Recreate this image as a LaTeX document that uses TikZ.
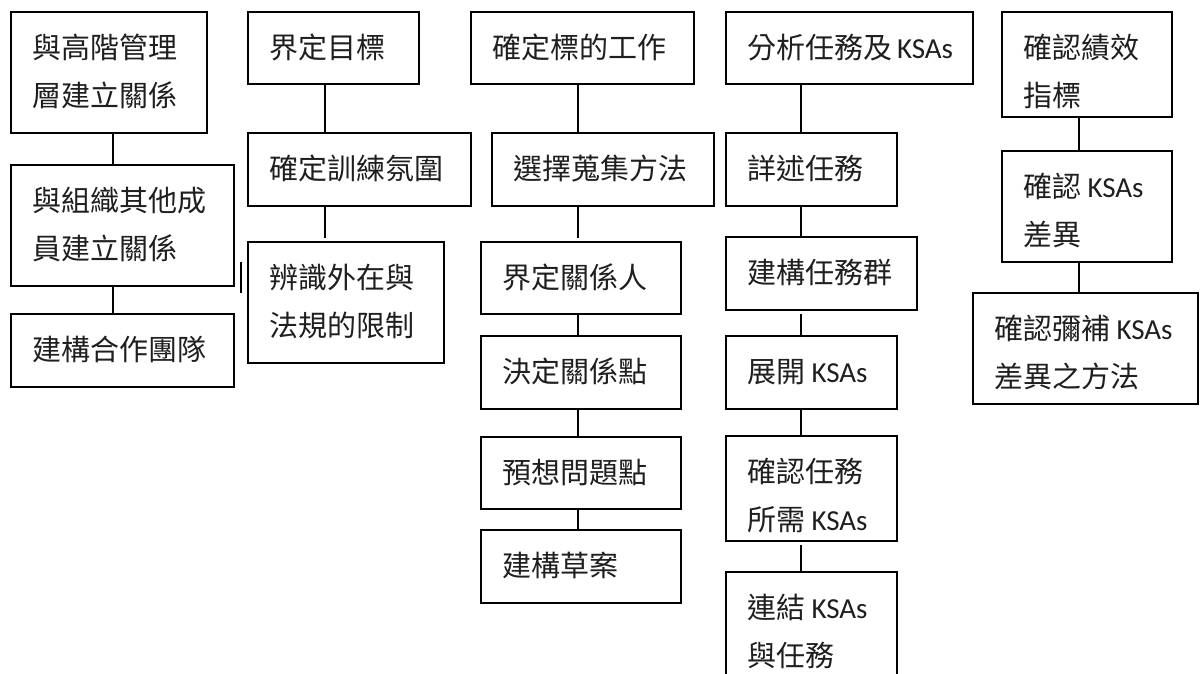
\documentclass[tikz,border=0pt]{standalone}
\usepackage{fontspec}
\setmainfont{Carlito}
\newfontfamily\cjk{Noto Sans CJK TC}
\newcommand\ksa{{\rmfamily KSAs}}
\tikzset{
  box/.style={draw=black, line width=2pt, inner sep=0pt, outer sep=0pt},
  txt/.style={inner sep=0pt, outer sep=0pt, anchor=base west, text=black!88, font=\fontsize{29}{29}\selectfont\cjk},
  conn/.style={draw=black, line width=2pt}
}
% name, x1, y1, x2, y2, line1
\newcommand\boxone[6]{%
  \node[box, minimum width={(#4-#2)*1pt}, minimum height={(#5-#3)*1pt}] (#1) at ({(#2+#4)/2},{(#3+#5)/2}) {};
  \node[txt] (#1l1) at ([xshift=21pt,yshift=-46pt]#1.north west) {#6};
}
% name, x1, y1, x2, y2, line1, line2
\newcommand\boxtwo[7]{%
  \boxone{#1}{#2}{#3}{#4}{#5}{#6}
  \node[txt] (#1l2) at ([xshift=21pt,yshift=-94pt]#1.north west) {#7};
}
\begin{document}
\begin{tikzpicture}[x=1pt, y=-1pt]
\clip (0,0) rectangle (1200,673);
\fill[white] (0,0) rectangle (1200,673);
% column A
\boxtwo{a1}{11}{12}{207}{133}{與高階管理}{層建立關係}
\boxtwo{a2}{11}{165}{234}{286}{與組織其他成}{員建立關係}
\boxone{a3}{11}{314}{234}{387}{建構合作團隊}
% column B
\boxone{b1}{248}{12}{419}{84}{界定目標}
\boxone{b2}{248}{133}{471}{206}{確定訓練氛圍}
\boxtwo{b3}{248}{242}{444}{363}{辨識外在與}{法規的限制}
% column C
\boxone{c1}{471}{12}{694}{84}{確定標的工作}
\boxone{c2}{492}{133}{714}{206}{選擇蒐集方法}
\boxone{c3}{481}{242}{681}{314}{界定關係人}
\boxone{c4}{481}{336}{681}{409}{決定關係點}
\boxone{c5}{481}{437}{681}{509}{預想問題點}
\boxone{c6}{481}{530}{681}{603}{建構草案}
% column D
\boxone{d1}{726}{12}{973}{84}{分析任務及\hspace{5pt}\ksa}
\boxone{d2}{726}{133}{897}{206}{詳述任務}
\boxone{d3}{726}{237}{917}{310}{建構任務群}
\boxone{d4}{726}{336}{897}{409}{展開 \ksa}
\boxtwo{d5}{726}{436}{897}{541}{確認任務}{所需 \ksa}
\boxtwo{d6}{726}{572}{897}{700}{連結 \ksa}{與任務}
% column E
\boxtwo{e1}{1002}{12}{1172}{117}{確認績效}{指標}
\boxtwo{e2}{1002}{151}{1172}{262}{確認 \ksa}{差異}
\boxtwo{e3}{973}{293}{1198}{404}{確認彌補 \ksa}{差異之方法}
% connectors
\draw[conn] (a1.south -| 113,0) -- (a2.north -| 113,0);
\draw[conn] (a2.south -| 113,0) -- (a3.north -| 113,0);
\draw[conn] (b1.south -| 325,0) -- (b2.north -| 325,0);
\draw[conn] (b2.south -| 325,0) -- ([yshift=4pt]b3.north -| 325,0);
\draw[conn] (c1.south -| 578,0) -- (c2.north -| 578,0);
\draw[conn] (c2.south -| 578,0) -- ([yshift=4pt]c3.north -| 578,0);
\draw[conn] (c3.south -| 578,0) -- (c4.north -| 578,0);
\draw[conn] (c4.south -| 578,0) -- (c5.north -| 578,0);
\draw[conn] (c5.south -| 578,0) -- (c6.north -| 578,0);
\draw[conn] (d1.south -| 801,0) -- (d2.north -| 801,0);
\draw[conn] (d2.south -| 801,0) -- (d3.north -| 801,0);
\draw[conn] ([yshift=-4pt]d3.south -| 801,0) -- (d4.north -| 801,0);
\draw[conn] (d4.south -| 801,0) -- (d5.north -| 801,0);
\draw[conn] ([yshift=-4pt]d5.south -| 801,0) -- (d6.north -| 801,0);
\draw[conn] (e1.south -| 1079,0) -- (e2.north -| 1079,0);
\draw[conn] (e2.south -| 1079,0) -- (e3.north -| 1079,0);
% stray vertical mark
\coordinate (m1) at (241,262);
\coordinate (m2) at (241,293);
\draw[conn] (m1) -- (m2);
\end{tikzpicture}
\end{document}
